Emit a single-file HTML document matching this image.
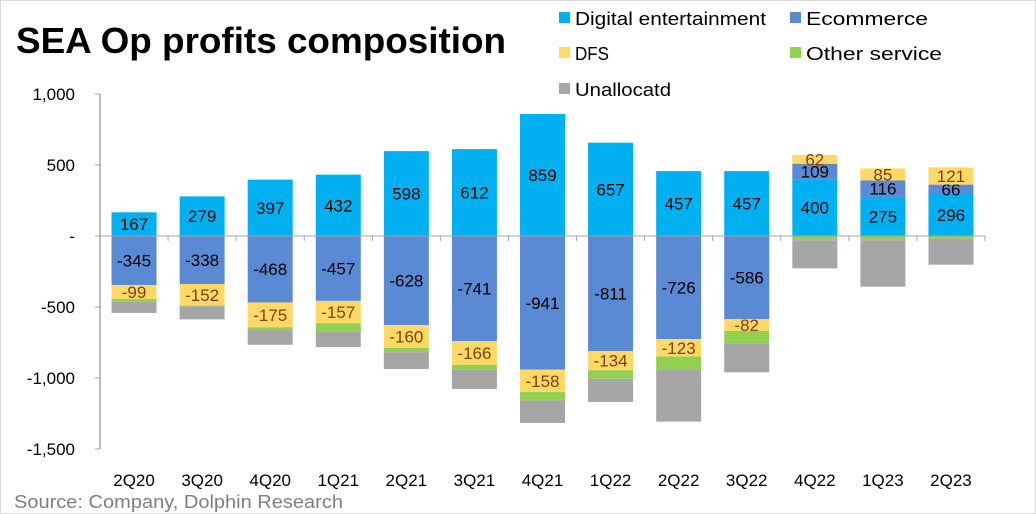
<!DOCTYPE html>
<html><head><meta charset="utf-8"><style>
html,body{margin:0;padding:0;background:#fff;}
svg{display:block;font-family:"Liberation Sans",sans-serif;}
</style></head><body>
<svg id="chart" width="1036" height="514" viewBox="0 0 1036 514">
<rect x="0.5" y="0.5" width="1035" height="513" fill="#fff" stroke="#d9d9d9"/>
<text x="16" y="53" font-size="36" font-weight="bold" fill="#000" textLength="490" lengthAdjust="spacingAndGlyphs">SEA Op profits composition</text>
<g id="legend">
 <rect x="559" y="12" width="11" height="11" fill="#00b0f0"/>
 <text x="575" y="25" font-size="18" textLength="191" lengthAdjust="spacingAndGlyphs">Digital entertainment</text>
 <rect x="790" y="12" width="11" height="11" fill="#5b8ad4"/>
 <text x="806" y="25" font-size="18" textLength="122" lengthAdjust="spacingAndGlyphs">Ecommerce</text>
 <rect x="559" y="47" width="11" height="11" fill="#ffd966"/>
 <text x="575" y="60" font-size="18" textLength="34" lengthAdjust="spacingAndGlyphs">DFS</text>
 <rect x="790" y="47" width="11" height="11" fill="#92d050"/>
 <text x="806" y="60" font-size="18" textLength="136" lengthAdjust="spacingAndGlyphs">Other service</text>
 <rect x="559" y="83" width="11" height="11" fill="#a6a6a6"/>
 <text x="575" y="96" font-size="18" textLength="96" lengthAdjust="spacingAndGlyphs">Unallocatd</text>
</g>
<g id="plot"></g>
<text x="14" y="508" font-size="18" fill="#7f7f7f" textLength="329" lengthAdjust="spacingAndGlyphs">Source: Company, Dolphin Research</text>
</svg>
<script>
const categories=["2Q20","3Q20","4Q20","1Q21","2Q21","3Q21","4Q21","1Q22","2Q22","3Q22","4Q22","1Q23","2Q23"];
const digital=[167,279,397,432,598,612,859,657,457,457,400,275,296];
const ecommerce=[-345,-338,-468,-457,-628,-741,-941,-811,-726,-586,109,116,66];
const dfs=[-99,-152,-175,-157,-160,-166,-158,-134,-123,-82,62,85,121];
const other=[-20,-5,-20,-60,-30,-35,-60,-60,-90,-90,-30,-30,-20];
const unalloc=[-78,-92,-103,-108,-119,-135,-158,-164,-368,-202,-198,-327,-182];
const yTicks=[1000,500,0,-500,-1000,-1500];
const yTickLabels=["1,000","500","-","-500","-1,000","-1,500"];

const NS="http://www.w3.org/2000/svg";
const g=document.getElementById('plot');
const x0=100,x1=985,y0v=236,pxPer=0.142;
const bw=(x1-x0)/categories.length, barW=45;
function y(v){return y0v-v*pxPer;}
function cx(i){return x0+bw*(i+0.5);}
function mk(tag,attrs){const e=document.createElementNS(NS,tag);for(const k in attrs)e.setAttribute(k,attrs[k]);g.appendChild(e);return e;}

let ax=mk('line',{x1:x0,y1:y(1000),x2:x0,y2:y(-1500),stroke:'#a6a6a6','stroke-width':1.5});


yTicks.forEach((t,i)=>{
 let l=mk('line',{x1:x0-5,y1:y(t),x2:x0,y2:y(t),stroke:'#a6a6a6'});
 
 
 let tx=mk('text',{x:75,y:y(t)+6,'font-size':17,'text-anchor':'end',fill:'#000'});
 tx.textContent=yTickLabels[i];
 
 
});

const series=[
 {d:digital,c:'#00b0f0',n:'digital',lc:'#000'},
 {d:ecommerce,c:'#5b8ad4',n:'ecommerce',lc:'#000'},
 {d:dfs,c:'#ffd966',n:'dfs',lc:'#843c0c'},
 {d:other,c:'#92d050',n:'other',lc:null},
 {d:unalloc,c:'#a6a6a6',n:'unallocated',lc:null}
];
categories.forEach((cat,i)=>{
 let pos=0,neg=0;
 series.forEach(s=>{
  const v=s.d[i];let a,b;
  if(v>=0){a=pos;b=pos+v;pos=b;}else{a=neg;b=neg+v;neg=b;}
  const top=y(Math.max(a,b)),h=Math.abs(y(a)-y(b));
  let r=mk('rect',{x:cx(i)-barW/2,y:top,width:barW,height:h,fill:s.c});
  
  
  if(s.lc){
   let t=mk('text',{x:cx(i),y:top+h/2+6,'font-size':17,'text-anchor':'middle',fill:s.lc});
   t.textContent=v;
   
   
  }
 });
 let tx=mk('text',{x:cx(i),y:486,'font-size':17,'text-anchor':'middle',fill:'#000'});
 tx.textContent=cat;
 
 
});
let xa=mk('line',{x1:x0,y1:y0v,x2:x1,y2:y0v,stroke:'#a6a6a6','stroke-width':1});


for(let i=0;i<=categories.length;i++){
 let l=mk('line',{x1:x0+bw*i,y1:y0v,x2:x0+bw*i,y2:y0v+5,stroke:'#a6a6a6'});
 
 
}
</script>
</body></html>
